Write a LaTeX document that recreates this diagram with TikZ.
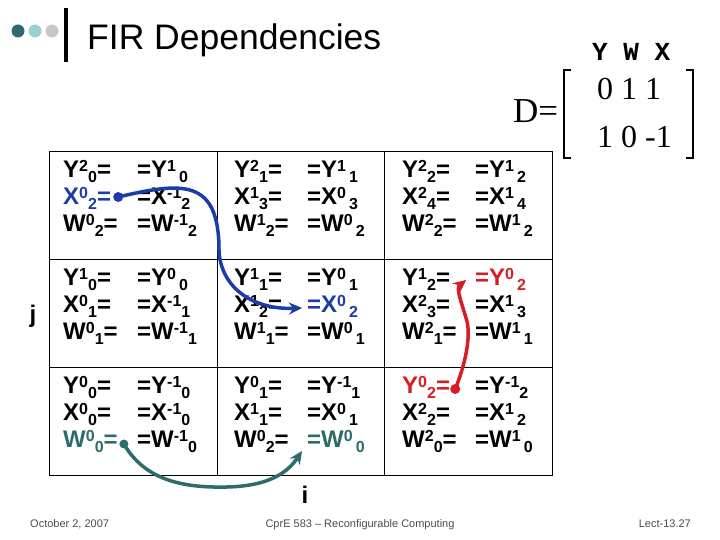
\documentclass[tikz,border=0pt]{standalone}
\usepackage{fontspec}
\setmainfont{Liberation Sans}
\newfontfamily\seriffont{Liberation Serif}
\newfontfamily\monofont{Liberation Mono}
\usetikzlibrary{arrows.meta, calc}
\definecolor{FIR_Blue}{HTML}{1E3CA8}
\definecolor{FIR_Red}{HTML}{D81E24}
\definecolor{FIR_Teal}{HTML}{2E6B6B}
\definecolor{FIR_Dark}{HTML}{2F6A72}
\definecolor{FIR_Cyan}{HTML}{9ACFD4}
\definecolor{FIR_Gray}{HTML}{C8C8C8}
% superscript then subscript, side by side
\newcommand{\su}[2]{\raisebox{6bp}{\fontsize{16bp}{16bp}\selectfont #1}\raisebox{-5bp}{\fontsize{16bp}{16bp}\selectfont #2}}
% same, one-digit superscript padded
\newcommand{\sr}[2]{\raisebox{6bp}{\makebox[12bp][l]{\fontsize{16bp}{16bp}\selectfont #1}}\raisebox{-5bp}{\fontsize{16bp}{16bp}\selectfont #2}}

\begin{document}
\begin{tikzpicture}[
    x=1bp, y=1bp,
    >=Stealth,
    txt/.style={anchor=base west, inner sep=0pt, font=\fontsize{24bp}{24bp}\selectfont\bfseries},
    cellline/.style={draw=black, line width=0.9bp},
    conn/.style={line width=3.5bp, -{Stealth[length=13bp, width=12bp]}},
    foot/.style={inner sep=0pt, text=black!70, font=\fontsize{11bp}{12bp}\selectfont},
    num/.style={anchor=base west, inner sep=0pt, font=\seriffont\fontsize{32bp}{32bp}\selectfont}
]
\useasboundingbox (0,0) rectangle (720,540);

% title
\fill[FIR_Dark] (18,509) circle (6.5);
\fill[FIR_Cyan] (35,509) circle (6.5);
\fill[FIR_Gray] (52,509) circle (6.5);
\draw[line width=4bp] (66,532) -- (66,478);
\node[anchor=base west, inner sep=0pt, font=\fontsize{35.5bp}{36bp}\selectfont] (title) at (87,490) {FIR Dependencies};

% dependence matrix
\node[anchor=base west, inner sep=0pt, font=\seriffont\fontsize{35bp}{35bp}\selectfont] (Dlab) at (513,417) {D=};
\node[anchor=base west, inner sep=0pt, font=\monofont\bfseries\fontsize{26bp}{26bp}\selectfont] (hdr) at (592,479) {Y W X};
\node[num] (mrow1) at (597,440) {0 1 1};
\node[num] (mrow2) at (597,392) {1 0 -1};
\draw[line width=1.1bp] (571,470) -- (564,470) -- (564,382) -- (571,382);
\draw[line width=1.1bp] (686,470) -- (693,470) -- (693,382) -- (686,382);

% iteration grid
\draw[cellline] (49,65) rectangle (552,389);
\draw[cellline] (217,65) -- (217,389);
\draw[cellline] (384,65) -- (384,389);
\draw[cellline] (49,281) -- (552,281);
\draw[cellline] (49,173) -- (552,173);

% row j=2
\node[txt] (y02L) at (63,362) {Y\su{2}{0}=};
\node[txt] (y02R) at (137,362) {=Y\sr{1}{0}};
\node[txt, text=FIR_Blue] (x02L) at (63,335) {X\su{0}{2}=};
\node[txt] (x02R) at (137,335) {=X\su{-1}{2}};
\node[txt] (w02L) at (63,308) {W\su{0}{2}=};
\node[txt] (w02R) at (137,308) {=W\su{-1}{2}};
\node[txt] (y12L) at (234,362) {Y\su{2}{1}=};
\node[txt] (y12R) at (307,362) {=Y\sr{1}{1}};
\node[txt] (x12L) at (234,335) {X\su{1}{3}=};
\node[txt] (x12R) at (307,335) {=X\sr{0}{3}};
\node[txt] (w12L) at (234,308) {W\su{1}{2}=};
\node[txt] (w12R) at (307,308) {=W\sr{0}{2}};
\node[txt] (y22L) at (402,362) {Y\su{2}{2}=};
\node[txt] (y22R) at (475,362) {=Y\sr{1}{2}};
\node[txt] (x22L) at (402,335) {X\su{2}{4}=};
\node[txt] (x22R) at (475,335) {=X\sr{1}{4}};
\node[txt] (w22L) at (402,308) {W\su{2}{2}=};
\node[txt] (w22R) at (475,308) {=W\sr{1}{2}};

% row j=1
\node[txt] (y01L) at (63,254) {Y\su{1}{0}=};
\node[txt] (y01R) at (137,254) {=Y\sr{0}{0}};
\node[txt] (x01L) at (63,227) {X\su{0}{1}=};
\node[txt] (x01R) at (137,227) {=X\su{-1}{1}};
\node[txt] (w01L) at (63,200) {W\su{0}{1}=};
\node[txt] (w01R) at (137,200) {=W\su{-1}{1}};
\node[txt] (y11L) at (234,254) {Y\su{1}{1}=};
\node[txt] (y11R) at (307,254) {=Y\sr{0}{1}};
\node[txt] (x11L) at (234,227) {X\su{1}{2}=};
\node[txt, text=FIR_Blue] (x11R) at (307,227) {=X\sr{0}{2}};
\node[txt] (w11L) at (234,200) {W\su{1}{1}=};
\node[txt] (w11R) at (307,200) {=W\sr{0}{1}};
\node[txt] (y21L) at (402,254) {Y\su{1}{2}=};
\node[txt, text=FIR_Red] (y21R) at (475,254) {=Y\sr{0}{2}};
\node[txt] (x21L) at (402,227) {X\su{2}{3}=};
\node[txt] (x21R) at (475,227) {=X\sr{1}{3}};
\node[txt] (w21L) at (402,200) {W\su{2}{1}=};
\node[txt] (w21R) at (475,200) {=W\sr{1}{1}};

% row j=0
\node[txt] (y00L) at (63,146) {Y\su{0}{0}=};
\node[txt] (y00R) at (137,146) {=Y\su{-1}{0}};
\node[txt] (x00L) at (63,119) {X\su{0}{0}=};
\node[txt] (x00R) at (137,119) {=X\su{-1}{0}};
\node[txt, text=FIR_Teal] (w00L) at (63,92) {W\su{0}{0}=};
\node[txt] (w00R) at (137,92) {=W\su{-1}{0}};
\node[txt] (y10L) at (234,146) {Y\su{0}{1}=};
\node[txt] (y10R) at (307,146) {=Y\su{-1}{1}};
\node[txt] (x10L) at (234,119) {X\su{1}{1}=};
\node[txt] (x10R) at (307,119) {=X\sr{0}{1}};
\node[txt] (w10L) at (234,92) {W\su{0}{2}=};
\node[txt, text=FIR_Teal] (w10R) at (307,92) {=W\sr{0}{0}};
\node[txt, text=FIR_Red] (y20L) at (402,146) {Y\su{0}{2}=};
\node[txt] (y20R) at (475,146) {=Y\su{-1}{2}};
\node[txt] (x20L) at (402,119) {X\su{2}{2}=};
\node[txt] (x20R) at (475,119) {=X\sr{1}{2}};
\node[txt] (w20L) at (402,92) {W\su{2}{0}=};
\node[txt] (w20R) at (475,92) {=W\sr{1}{0}};

% axis letters
\node[font=\fontsize{24bp}{24bp}\selectfont\bfseries] (jlab) at (33,224) {j};
\node[font=\fontsize{24bp}{24bp}\selectfont\bfseries] (ilab) at (305,45) {i};

% dependence arrows
\coordinate (bS) at ($(x02L.base east)+(7,8)$);
\coordinate (bM) at (219,290);
\coordinate (bE) at ($(x11R.base west)+(-5,5)$);
\coordinate (rS) at ($(y20L.base east)+(5,5)$);
\coordinate (rM) at (466,222);
\coordinate (rE) at ($(y21L.base east)+(16,6)$);
\coordinate (tS) at ($(w00L.base east)+(6,4)$);
\coordinate (tM) at (227,53);
\coordinate (tE) at ($(w10R.base west)+(-5,-3)$);

\draw[conn, FIR_Blue] (bS) .. controls (182,358) and (219,362) .. (bM) .. controls (220,255) and (250,230) .. (bE);
\fill[FIR_Blue] (bS) circle (5);
\draw[conn, FIR_Red] (rS) .. controls (465,175) and (472,205) .. (rM) .. controls (460,242) and (456,252) .. (rE);
\fill[FIR_Red] (rS) circle (5);
\draw[conn, FIR_Teal] (tS) .. controls (145,60) and (182,52) .. (tM) .. controls (270,54) and (288,68) .. (tE);
\fill[FIR_Teal] (tS) circle (4.5);

% footer
\node[foot, anchor=base west] (date) at (30,12) {October 2, 2007};
\node[foot, anchor=base] (course) at (360,12) {CprE 583 -- Reconfigurable Computing};
\node[foot, anchor=base east] (slide) at (691,12) {Lect-13.27};
\end{tikzpicture}
\end{document}
